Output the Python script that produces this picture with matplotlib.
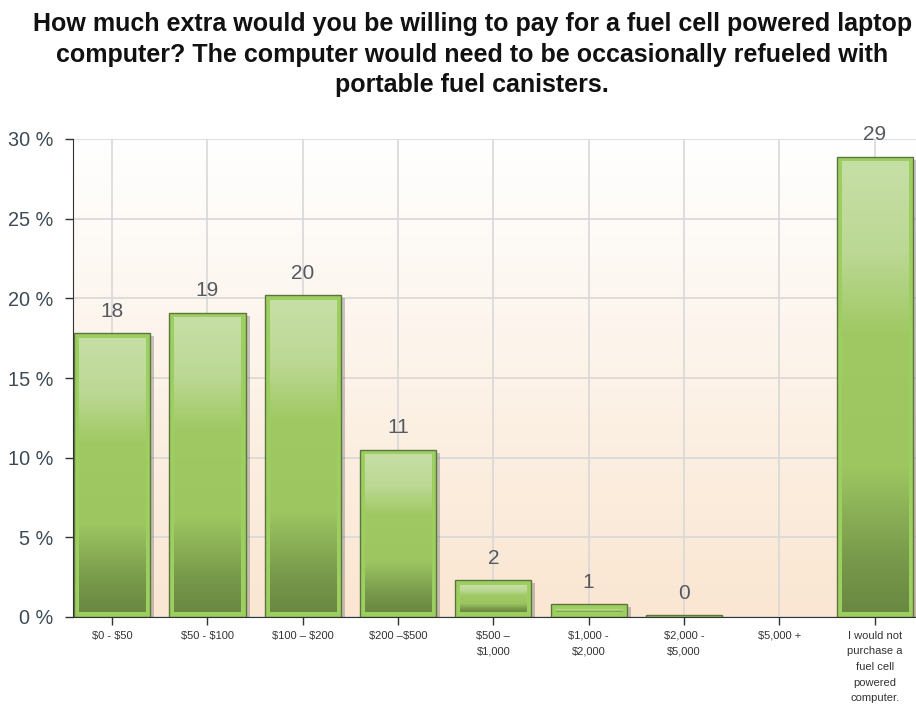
import numpy as np
import matplotlib
matplotlib.use("Agg")
import matplotlib.pyplot as plt
from matplotlib.colors import LinearSegmentedColormap
from matplotlib.patches import Rectangle

plt.rcParams['font.family'] = ['Liberation Sans', 'DejaVu Sans']

categories = ["\\$0 - \\$50", "\\$50 - \\$100", "\\$100 \u2013 \\$200", "\\$200 \u2013\\$500",
              "\\$500 \u2013\n\\$1,000", "\\$1,000 -\n\\$2,000", "\\$2,000 -\n\\$5,000",
              "\\$5,000 +", "I would not\npurchase a\nfuel cell\npowered\ncomputer."]
values = [17.8, 19.1, 20.2, 10.5, 2.3, 0.8, 0.1, 0.0, 28.9]
labels = ["18", "19", "20", "11", "2", "1", "0", "", "29"]
yticks = [0, 5, 10, 15, 20, 25, 30]
ytick_labels = ["0 %", "5 %", "10 %", "15 %", "20 %", "25 %", "30 %"]

title = ("How much extra would you be willing to pay for a fuel cell powered laptop\n"
         "computer? The computer would need to be occasionally refueled with\n"
         "portable fuel canisters.")

W, H = 916, 711
fig = plt.figure(figsize=(W / 100, H / 100), dpi=100)
ax_px = (73, 139, 845, 478)  # left, top, width, height in pixels
ax = fig.add_axes([ax_px[0] / W, 1 - (ax_px[1] + ax_px[3]) / H, ax_px[2] / W, ax_px[3] / H])

x = np.arange(len(categories))
XL = (-0.41, 8.455)
YL = (0, 30)
dx_px = (XL[1] - XL[0]) / ax_px[2]
dy_px = (YL[1] - YL[0]) / ax_px[3]

# background gradient
bg = LinearSegmentedColormap.from_list("bg", ["#fae6d1", "#ffffff"])
grad = np.linspace(0, 1, 256).reshape(-1, 1)
ax.imshow(grad, cmap=bg, aspect="auto", extent=[XL[0], XL[1], YL[0], YL[1]],
          origin="lower", zorder=0)

ax.set_xticks(x)
ax.set_xticklabels(categories, fontsize=8, color="#333333", linespacing=1.7)
ax.set_yticks(yticks)
ax.set_yticklabels(ytick_labels, fontsize=14.3, color="#3d4a55")
ax.grid(True, color="#d8d8d8", linewidth=1.2, zorder=1)
ax.set_axisbelow(True)
ax.tick_params(axis="both", length=6, width=1, color="#333333", direction="out")
ax.tick_params(axis="y", pad=8)
ax.tick_params(axis="x", pad=4)
for s in ["top", "right"]:
    ax.spines[s].set_visible(False)
ax.spines["left"].set_color("#333333")
ax.spines["bottom"].set_color("#333333")
ax.spines["left"].set_zorder(5)
ax.spines["bottom"].set_zorder(5)

barcm = LinearSegmentedColormap.from_list(
    "bar", [(0, "#6a8842"), (0.12, "#789a4b"), (0.32, "#9dc661"),
            (0.62, "#a0c964"), (0.8, "#bcd894"), (1, "#c6dfa6")])
width = 0.8
bars = ax.bar(x, values, width=width, color="#9dce60", edgecolor="#5c7440",
              linewidth=1.0, zorder=3)
inset = 5
for b, v in zip(bars, values):
    if v <= 0:
        b.set_visible(False)
        continue
    x0 = b.get_x()
    sh = Rectangle((x0, 0), width, v, facecolor="#666666", edgecolor="none",
                   alpha=0.35, zorder=2)
    sh.set_transform(ax.transData + matplotlib.transforms.ScaledTranslation(
        4 / 100, -3 / 100, fig.dpi_scale_trans))
    ax.add_patch(sh)
    ix0 = x0 + inset * dx_px
    ix1 = x0 + width - inset * dx_px
    iy0 = inset * dy_px
    iy1 = v - inset * dy_px
    if iy1 > iy0:
        ax.imshow(grad, cmap=barcm, aspect="auto",
                  extent=[ix0, ix1, iy0, iy1], origin="lower", zorder=4)

ax.set_xlim(*XL)
ax.set_ylim(*YL)

for xi, v, lab in zip(x, values, labels):
    if lab:
        ax.annotate(lab, (xi, v), xytext=(0, 9), textcoords="offset points",
                    ha="center", va="bottom", fontsize=15, color="#555a60",
                    zorder=6)

fig.text(0.5155, 0.983, title, ha="center", va="top", fontsize=18,
         fontweight="bold", color="#111111", linespacing=1.35)

fig.savefig("out.png", dpi=100)
